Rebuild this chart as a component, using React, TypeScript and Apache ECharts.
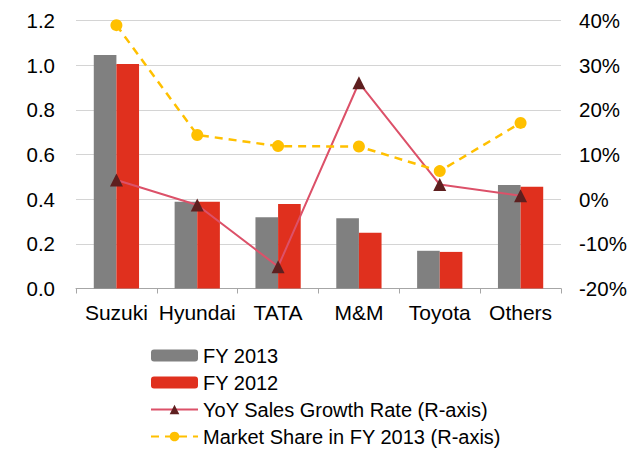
import React, { useEffect, useRef } from "react";
import * as echarts from "echarts";

const categories = ["Suzuki", "Hyundai", "TATA", "M&M", "Toyota", "Others"];
const fy2013 = [1.046, 0.389, 0.319, 0.315, 0.169, 0.464];
const fy2012 = [1.006, 0.389, 0.379, 0.25, 0.164, 0.456];
const yoyGrowth = [4.3, -1.3, -15.1, 26.1, 3.3, 0.8];
const marketShare = [39.0, 14.4, 11.9, 11.8, 6.3, 17.1];
const leftTicks = { min: 0, max: 1.2, interval: 0.2 };
const rightTicks = { min: -20, max: 40, interval: 10 };

const FONT = "'Liberation Sans', Arial, sans-serif";

export default function App() {
  const ref = useRef<HTMLDivElement>(null);
  useEffect(() => {
    if (!ref.current) return;
    const chart = echarts.init(ref.current, undefined, { renderer: "svg" });
    chart.setOption({
      animation: false,
      textStyle: { fontFamily: FONT },
      grid: { left: 76, right: 79, top: 20.7, bottom: 162.5, containLabel: false },
      legend: {
        orient: "vertical",
        left: 150,
        top: 345.5,
        height: 105,
        padding: 0,
        itemWidth: 47,
        itemHeight: 12,
        itemGap: 7,
        textStyle: { fontFamily: FONT, fontSize: 20, color: "#000", lineHeight: 20 },
        data: [
          { name: "FY 2013" },
          { name: "FY 2012" },
          { name: "YoY Sales Growth Rate (R-axis)" },
          { name: "Market Share in FY 2013 (R-axis)" },
        ],
      },
      xAxis: {
        type: "category",
        data: categories,
        axisLine: { lineStyle: { color: "#a6a6a6", width: 1 } },
        axisTick: { show: true, length: 5, lineStyle: { color: "#a6a6a6" } },
        axisLabel: { fontFamily: FONT, fontSize: 21, color: "#000", margin: 13, interval: 0 },
      },
      yAxis: [
        {
          type: "value",
          min: leftTicks.min,
          max: leftTicks.max,
          interval: leftTicks.interval,
          axisLine: { show: false },
          axisTick: { show: false },
          splitLine: { lineStyle: { color: "#d4d4d4", width: 1.2 } },
          axisLabel: {
            fontFamily: FONT,
            fontSize: 20.5,
            color: "#000",
            margin: 21,
            formatter: (v: number) => v.toFixed(1),
          },
        },
        {
          type: "value",
          min: rightTicks.min,
          max: rightTicks.max,
          interval: rightTicks.interval,
          axisLine: { show: false },
          axisTick: { show: false },
          splitLine: { show: false },
          axisLabel: {
            fontFamily: FONT,
            fontSize: 20.5,
            color: "#000",
            margin: 18,
            formatter: (v: number) => `${v}%`,
          },
        },
      ],
      series: [
        {
          name: "FY 2013",
          type: "bar",
          data: fy2013,
          barGap: "0%",
          barCategoryGap: "44%",
          itemStyle: { color: "#808080" },
        },
        {
          name: "FY 2012",
          type: "bar",
          data: fy2012,
          barGap: "0%",
          barCategoryGap: "44%",
          itemStyle: { color: "#e0301e" },
        },
        {
          name: "YoY Sales Growth Rate (R-axis)",
          type: "line",
          yAxisIndex: 1,
          data: yoyGrowth,
          symbol: "triangle",
          symbolSize: 13,
          lineStyle: { color: "#dc5169", width: 2 },
          itemStyle: { color: "#5e1f1f" },
          z: 3,
        },
        {
          name: "Market Share in FY 2013 (R-axis)",
          type: "line",
          yAxisIndex: 1,
          data: marketShare,
          symbol: "circle",
          symbolSize: 12,
          lineStyle: { color: "#ffc000", width: 2.5, type: [8, 6] },
          itemStyle: { color: "#ffc000" },
          z: 4,
        },
      ],
    });
    return () => chart.dispose();
  }, []);
  return <div ref={ref} style={{ width: 640, height: 451, position: "absolute", left: 0, top: 0 }} />;
}
